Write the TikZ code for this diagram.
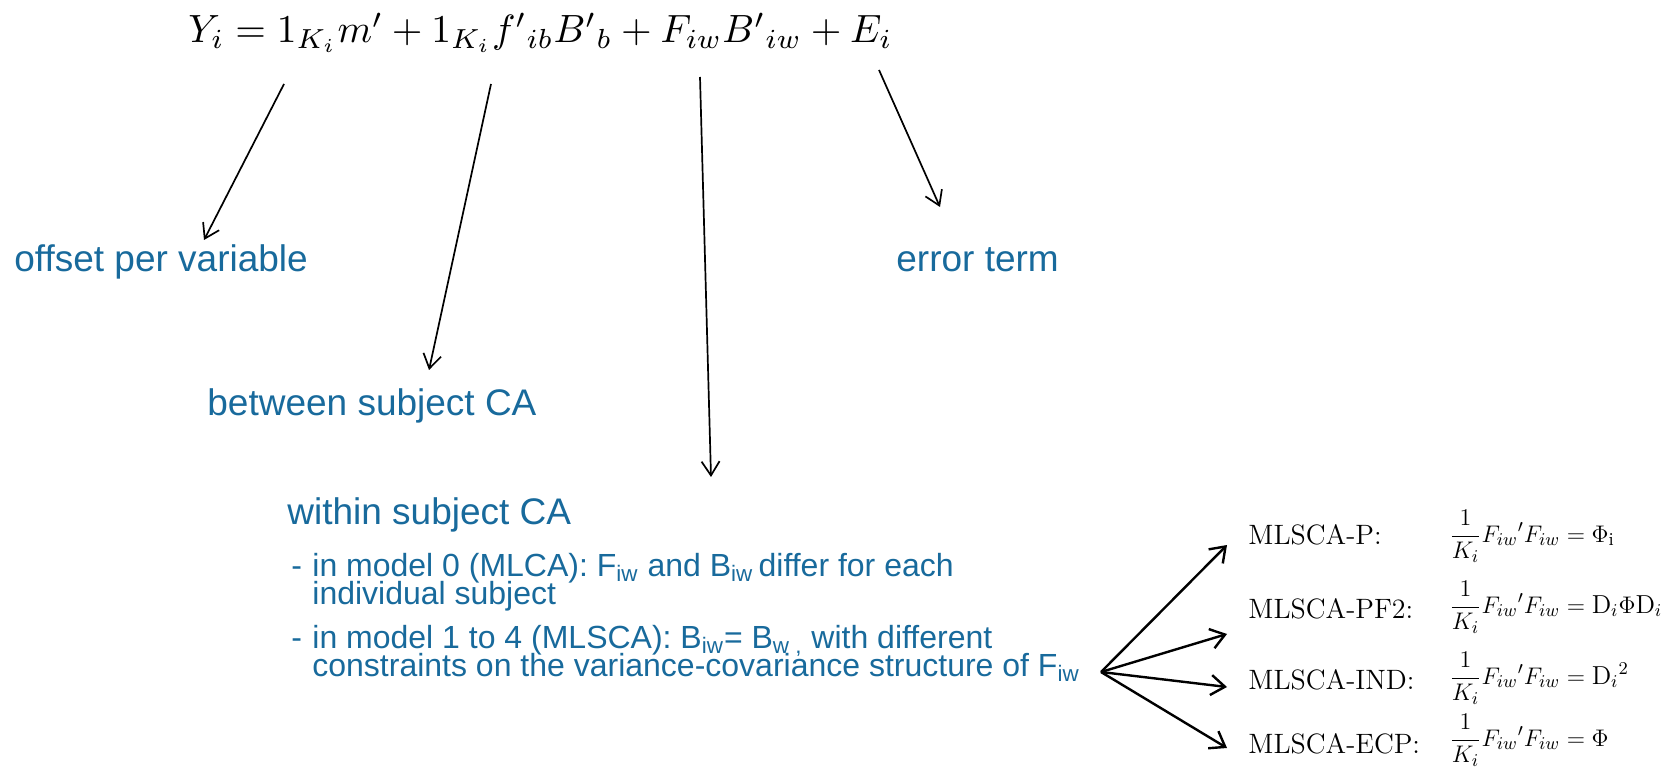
\documentclass[tikz,border=0pt]{standalone}
\usepackage{fontspec}
\usepackage{graphicx}
\usetikzlibrary{arrows.meta}
\newfontfamily\arialfont{Liberation Sans}
\definecolor{txtblue}{RGB}{24,106,156}
\begin{document}
\begin{tikzpicture}[x=0.5pt,y=-0.5pt,
  lbl/.style={anchor=base west, inner sep=0pt, text=txtblue, font=\arialfont\fontsize{18.5}{20}\selectfont},
  bul/.style={anchor=base west, inner sep=0pt, text=txtblue, text height=11.5pt, text depth=2pt, font=\arialfont\fontsize{16}{18}\selectfont},
  mname/.style={anchor=base west, inner sep=0pt, font=\fontsize{14}{16}\selectfont},
  mform/.style={anchor=base west, inner sep=0pt, font=\fontsize{13}{15}\selectfont},
  arr/.style={-{Straight Barb[length=7pt,width=9pt]}, line width=0.85pt},
  fanarr/.style={-{Straight Barb[length=7pt,width=10pt]}, line width=1.2pt}]
\useasboundingbox (0,0) rectangle (1680,774);

% equation
\node[anchor=base west, inner sep=0pt] (eq) at (188,43)
  {\resizebox{352pt}{!}{$Y_i = 1_{K_i} m' + 1_{K_i} f'{}_{ib} B'{}_{b} + F_{iw} B'{}_{iw} + E_i$}};

% labels
\node[lbl] (offset) at (14,272) {offset per variable};
\node[lbl] (error) at (896,272) {error term};
\node[lbl] (between) at (207,416) {between subject CA};
\node[lbl, text depth=2pt] (within) at (287,524) {within subject CA};

% bullets
\node[bul] (d1) at (291,576) {-};
\node[bul] (b1) at (312,576) {in model 0 (MLCA): F\textsubscript{iw} and B\textsubscript{iw}\,differ for each};
\node[bul] (b1b) at (312,604) {individual subject};
\node[bul] (d2) at (291,648) {-};
\node[bul] (b2) at (312,648) {in model 1 to 4 (MLSCA): B\textsubscript{iw}= B\textsubscript{w ,} with different};
\node[bul] (b2b) at (312,676) {constraints on the variance-covariance structure of F\textsubscript{iw}};

% model names
\node[mname] (mp) at (1248,545) {MLSCA-P:};
\node[mname] (mpf) at (1248,618) {MLSCA-PF2:};
\node[mname] (mind) at (1248,689) {MLSCA-IND:};
\node[mname] (mecp) at (1248,753) {MLSCA-ECP:};

% formulas
\node[mform] (fp) at (1449,542) {$\displaystyle\frac{1}{K_i}F_{iw}{}'F_{iw} = \Phi_{\mathrm{i}}$};
\node[mform] (fpf) at (1449,613) {$\displaystyle\frac{1}{K_i}F_{iw}{}'F_{iw} = \mathrm{D}_i\Phi\mathrm{D}_i$};
\node[mform] (find) at (1449,684) {$\displaystyle\frac{1}{K_i}F_{iw}{}'F_{iw} = \mathrm{D}_i{}^{2}$};
\node[mform] (fecp) at (1449,746) {$\displaystyle\frac{1}{K_i}F_{iw}{}'F_{iw} = \Phi$};

% top arrows
\coordinate (t1) at (284,84);  \coordinate (h1) at (204,240);
\coordinate (t2) at (491,84);  \coordinate (h2) at (429,370);
\coordinate (t3) at (700,77);  \coordinate (h3) at (711,477);
\coordinate (t4) at (879,70);  \coordinate (h4) at (940,207);
\draw[arr] (t1) -- (h1);
\draw[arr] (t2) -- (h2);
\draw[arr] (t3) -- (h3);
\draw[arr] (t4) -- (h4);

% fan arrows
\coordinate (fan) at (1101,672);
\coordinate (fp1) at (1227,545);
\coordinate (fp2) at (1227,634);
\coordinate (fp3) at (1227,687);
\coordinate (fp4) at (1227,748);
\draw[fanarr] (fan) -- (fp1);
\draw[fanarr] (fan) -- (fp2);
\draw[fanarr] (fan) -- (fp3);
\draw[fanarr] (fan) -- (fp4);
\end{tikzpicture}
\end{document}
